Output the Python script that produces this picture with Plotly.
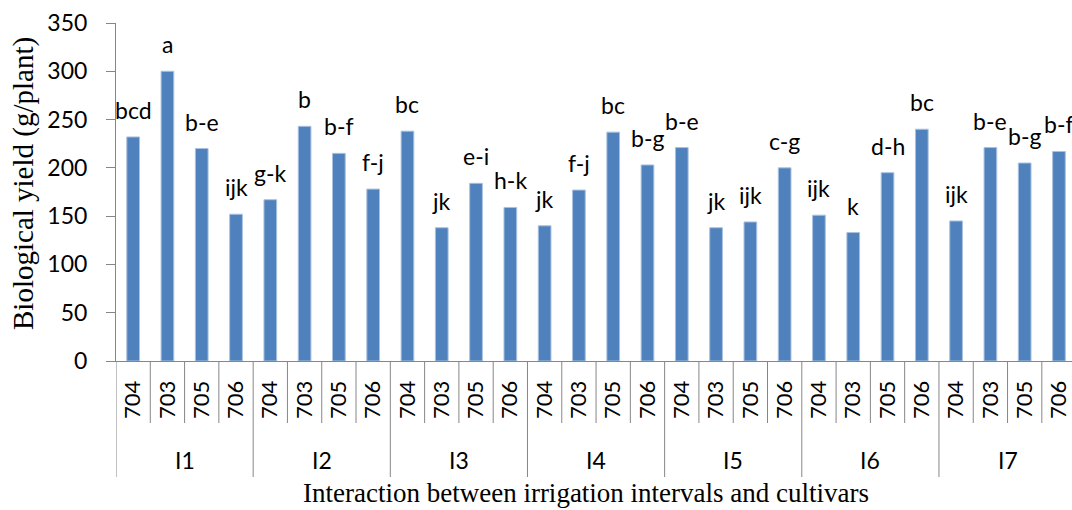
import plotly.graph_objects as go

# cultivars within each irrigation interval
cultivars = ["704", "703", "705", "706"]
intervals = ["I1", "I2", "I3", "I4", "I5", "I6", "I7"]

biological_yield = [
    232, 300, 220, 152,   # I1
    167, 243, 215, 178,   # I2
    238, 138, 184, 159,   # I3
    140, 177, 237, 203,   # I4
    221, 138, 144, 200,   # I5
    151, 133, 195, 240,   # I6
    145, 221, 205, 217,   # I7
]
letters = [
    "bcd", "a", "b-e", "ijk",
    "g-k", "b", "b-f", "f-j",
    "bc", "jk", "e-i", "h-k",
    "jk", "f-j", "bc", "b-g",
    "b-e", "jk", "ijk", "c-g",
    "ijk", "k", "d-h", "bc",
    "ijk", "b-e", "b-g", "b-f",
]

n_cult = len(cultivars)
xs = list(range(len(intervals) * n_cult))
tick_text = cultivars * len(intervals)

BLUE = "#4F81BD"
AXIS = "#868686"
SANS = "Lato"
SERIF = "Liberation Serif"
PLOT_H = 510 - 23 - 149

fig = go.Figure()
fig.add_trace(go.Bar(
    x=xs,
    y=biological_yield,
    width=0.37,
    marker=dict(color=BLUE, line=dict(color="#A9C1E0", width=1)),
    showlegend=False,
))

# significance letters above bars
for x, y, t in zip(xs, biological_yield, letters):
    fig.add_annotation(x=x, y=y, text=t, showarrow=False, yanchor="bottom",
                       yshift=11, font=dict(family=SANS, size=23, color="black"))

shapes = []
# separators between cultivars (short) and between intervals (long)
for b in range(len(xs) + 1):
    major = b % n_cult == 0
    shapes.append(dict(type="line", xref="x", yref="paper",
                       x0=b - 0.5, x1=b - 0.5, y0=0,
                       y1=-(116 if major else 62) / PLOT_H,
                       line=dict(color=AXIS, width=1)))
fig.update_layout(shapes=shapes)

# interval labels
for g, name in enumerate(intervals):
    fig.add_annotation(x=g * n_cult + (n_cult - 1) / 2, y=-99 / PLOT_H,
                       xref="x", yref="paper", text=name, showarrow=False,
                       yanchor="middle",
                       font=dict(family=SANS, size=23, color="black"))

fig.add_annotation(x=(586 - 116) / 956, y=-132 / PLOT_H, xref="paper", yref="paper",
                   text="Interaction between irrigation intervals and cultivars",
                   showarrow=False, yanchor="middle",
                   font=dict(family=SERIF, size=27, color="black"))
fig.add_annotation(x=-93 / 956, y=(361 - 184) / PLOT_H, xref="paper", yref="paper",
                   text="Biological yield (g/plant)", textangle=-90,
                   showarrow=False, xanchor="center", yanchor="middle",
                   font=dict(family=SERIF, size=29, color="black"))

fig.update_xaxes(
    range=[-0.5, 27.38],
    tickvals=xs, ticktext=tick_text, tickangle=-90,
    ticks="outside", ticklen=10, tickcolor="rgba(0,0,0,0)",
    showline=True, linecolor=AXIS, linewidth=1,
    showgrid=False, zeroline=False,
    tickfont=dict(family=SANS, size=22, color="black"),
)
fig.update_yaxes(
    range=[0, 350], dtick=50,
    ticks="outside", ticklen=9, tickcolor=AXIS,
    ticklabelstandoff=14,
    showline=True, linecolor=AXIS, linewidth=1,
    showgrid=False, zeroline=False,
    tickfont=dict(family=SANS, size=23, color="black"),
)
fig.update_layout(
    width=1072, height=510,
    margin=dict(l=116, r=0, t=23, b=149),
    plot_bgcolor="white", paper_bgcolor="white",
)

fig.write_html("out.html", config={"displayModeBar": False},
               post_script="document.body.style.margin='0';")
